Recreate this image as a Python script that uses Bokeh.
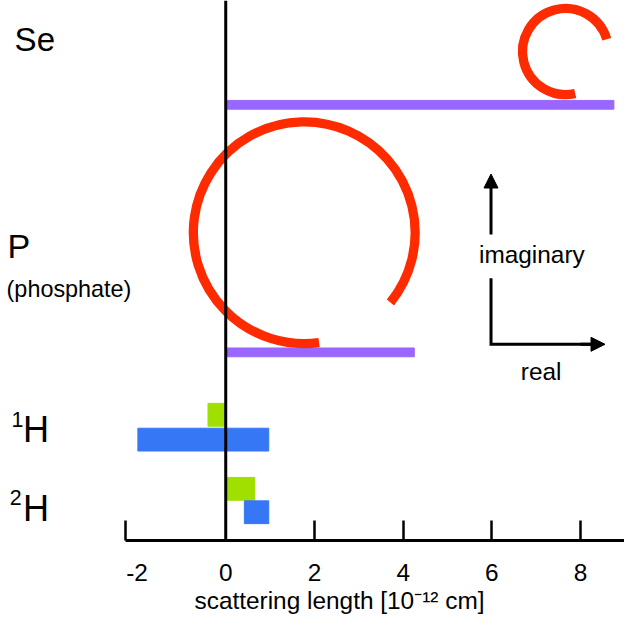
import numpy as np
from bokeh.plotting import figure
from bokeh.models import Range1d, Span, Label, Arrow, NormalHead, FixedTicker, ColumnDataSource, Title
from bokeh.embed import file_html
from bokeh.resources import INLINE

# ---------------- data (scattering lengths, 10^-12 cm) ----------------
xray_elements = ["Se", "P"]
xray_length = [8.75, 4.25]            # purple bars (0 -> value)
anom_center = [7.66, 1.77]            # red arcs: centre on the real axis
anom_radius = [0.97, 2.50]
anom_start_deg = [16.5, -39.0]
anom_end_deg = [283.0, 277.7]

iso_elements = ["1H", "2H"]
coh_length = [-0.40, 0.65]            # green bars (0 -> value)
incoh_start = [-1.98, 0.42]           # blue bars
incoh_end = [0.97, 0.97]

x_ticks = [-2, 0, 2, 4, 6, 8]
x_tick_text = ["-2", "0", "2", "4", "6", "8"]
x_title = "scattering length [10\u207b\u00b9\u00b2 cm]"

# ---------------- layout (vertical row positions, styles) ----------------
FONT = "Liberation Sans"
RED, PURPLE, GREEN, BLUE = "#FF2B00", "#9966FF", "#A0E000", "#3677F5"
S = 0.975                              # overall scale
xray_y = [447.0, 193.0]
anom_dy = [54.7, 122.8]
coh_y = [129.0, 53.0]
incoh_y = [103.5, 29.0]
X0, X1 = -5.077, 8.989
AXIS_START = -2.27

def fs(px):
    return f"{px * S:.1f}px"

p = figure(width=624, height=620, x_range=Range1d(X0, X1), y_range=Range1d(0, 554),
           output_backend="svg", toolbar_location=None, y_axis_location=None,
           min_border_left=0, min_border_right=0, min_border_top=0, min_border_bottom=80)
p.grid.visible = False
p.outline_line_color = None
p.background_fill_color = "white"

# x-ray (purple)
p.hbar(y=xray_y, left=0, right=xray_length, height=9, color=PURPLE)

# anomalous scattering arcs (red)
arc_src = ColumnDataSource(dict(
    x=anom_center, y=[a + b for a, b in zip(xray_y, anom_dy)], r=anom_radius,
    s=np.radians(anom_start_deg), e=np.radians(anom_end_deg)))
p.arc(x="x", y="y", radius="r", start_angle="s", end_angle="e", direction="anticlock",
      source=arc_src, line_color=RED, line_width=9.5 * S, line_cap="butt")

# neutron bars
p.hbar(y=coh_y, left=0, right=coh_length, height=23.4, color=GREEN)
p.hbar(y=incoh_y, left=incoh_start, right=incoh_end, height=23.4, color=BLUE)

# zero line
p.add_layout(Span(location=0, dimension="height", line_color="black", line_width=3))

# x axis
ax = p.xaxis[0]
ax.ticker = FixedTicker(ticks=x_ticks, minor_ticks=[AXIS_START + 0.01] + [t for t in x_ticks if t > 0])
ax.major_label_overrides = {t: s for t, s in zip(x_ticks, x_tick_text)}
ax.bounds = (AXIS_START, X1)
ax.axis_line_width = 3
ax.axis_line_color = "black"
ax.major_tick_line_color = None
ax.major_tick_out = 0
ax.major_tick_in = 0
ax.minor_tick_in = 20
ax.minor_tick_out = 0
ax.minor_tick_line_width = 2.5
ax.minor_tick_line_color = "black"
ax.major_label_text_font = FONT
ax.major_label_text_font_size = fs(25)
ax.major_label_text_color = "black"
ax.major_label_standoff = 23

p.add_layout(Title(text=x_title, align="left", offset=194, standoff=3,
                   text_font=FONT, text_font_size=fs(25), text_font_style="normal",
                   text_color="black"), "below")

# row labels
def lab(text, x, y, size, align="left"):
    # Bokeh places the alphabetic baseline ~0.37em low; compensate
    y = y + 0.37 * size
    p.add_layout(Label(x=x, y=y, text=text, text_font=FONT, text_font_size=fs(size),
                       text_color="black", text_align=align, text_baseline="alphabetic"))

lab("Se", -4.76, 501, 34)
lab("P", -4.92, 289, 35)
lab("(phosphate)", -4.94, 249, 24)
lab("1", -4.83, 116, 22)
lab("H", -4.57, 100, 37)
lab("2", -4.87, 36, 22)
lab("H", -4.57, 19, 37)

# real / imaginary key
head = dict(size=14, fill_color="black", line_color="black")
p.add_layout(Arrow(x_start=5.98, y_start=314, x_end=5.98, y_end=376,
                   end=NormalHead(**head), line_width=3, line_color="black"))
p.line(x=[5.98, 5.98, 8.3], y=[269, 201.3, 201.3], line_width=3, line_color="black",
       line_join="miter")
p.add_layout(Arrow(x_start=8.0, y_start=201.3, x_end=8.55, y_end=201.3,
                   end=NormalHead(**head), line_width=3, line_color="black"))
lab("imaginary", 6.90, 284, 25, "center")
lab("real", 7.11, 164, 25, "center")

open("out.html", "w").write(file_html(p, INLINE))
